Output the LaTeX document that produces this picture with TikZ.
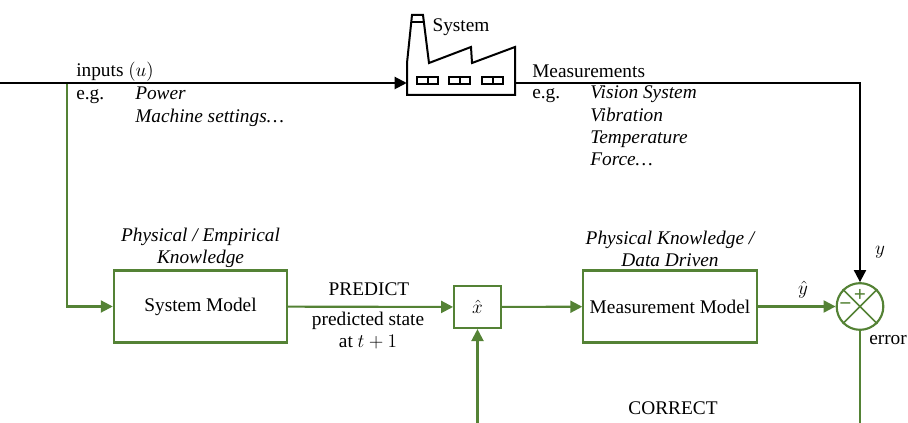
\documentclass[tikz,border=0pt]{standalone}
\usepackage{fontspec}
\setmainfont{Liberation Serif}
\usetikzlibrary{arrows.meta}
\definecolor{modelgreen}{HTML}{548235}

\begin{document}
\begin{tikzpicture}[x=0.75pt, y=-0.75pt,
  every node/.style={font=\fontsize{14.5}{17}\selectfont},
  model/.style={draw=modelgreen, line width=1.6pt, minimum width=130pt, minimum height=54pt},
  flow/.style={modelgreen, line width=1.6pt},
  tip/.style={-{Triangle[length=9pt, width=9pt]}},
  plant/.style={black, line width=1.5pt},
  note/.style={anchor=base west, inner sep=0pt},
  example/.style={note, font=\fontsize{14.5}{17}\selectfont\itshape},
  knowledge/.style={anchor=south, inner sep=1.5pt, align=center,
    font=\fontsize{14.5}{16.5}\selectfont\itshape}]
  \useasboundingbox (0,0) rectangle (908,423);

  % Factory
  \draw[plant, line join=miter] (407,95) -- (407,63) -- (412,15) -- (423,15) -- (429,63)
    -- (471,47) -- (472,63) -- (515,47) -- (515,95) -- cycle;
  \draw[plant] (411,22) -- (424,22);
  \draw[plant] (417,77) rectangle (438,84) (427.5,77) -- (427.5,84);
  \draw[plant] (449,77) rectangle (470,84) (459.5,77) -- (459.5,84);
  \draw[plant] (482,77) rectangle (503,84) (492.5,77) -- (492.5,84);
  \node (system) [inner sep=0pt, minimum width=81pt, minimum height=0pt] at (461,83) {};
  \node[anchor=base] at (461,32) {System};

  % Inputs
  \coordinate (in) at (0,83);
  \coordinate (tap) at (67,83);
  \node[note] at (76,77) {inputs $(u)$};
  \node[note] at (76,100) {e.g.};
  \node[example] at (135,100) {Power};
  \node[example] at (135,123) {Machine settings\ldots};

  % Measurements
  \node[note] at (532,78) {Measurements};
  \node[note] at (532,99) {e.g.};
  \node[example] at (590,99) {Vision System};
  \node[example] at (590,122) {Vibration};
  \node[example] at (590,144) {Temperature};
  \node[example] at (590,166) {Force\ldots};

  % Models
  \node[model] (sysmodel) at (200.5,306.5) {System Model};
  \node[knowledge] at (sysmodel.north) {Physical / Empirical\\Knowledge};
  \node[draw=modelgreen, line width=1.6pt, minimum width=35pt, minimum height=31.5pt] (xhat) at (477.5,307) {$\hat{x}$};
  \node[model] (measmodel) at (670,306.5) {Measurement Model};
  \node[knowledge] at (measmodel.north) {Physical Knowledge /\\Data Driven};

  % Error
  \node[circle, draw=modelgreen, line width=1.6pt, minimum size=35pt, inner sep=0pt] (sum) at (860,306.5) {};
  \draw[modelgreen, line width=1.3pt] (sum.north east) -- (sum.south west) (sum.north west) -- (sum.south east);
  \node[text=modelgreen, font=\fontsize{16}{16}\selectfont\bfseries] at ([yshift=8.5pt]sum.center) {+};
  \node[text=modelgreen, font=\fontsize{16}{16}\selectfont\bfseries] at ([xshift=-11pt]sum.center) {\textminus};
  \coordinate (errend) at (860,423);

  % Connectors
  \draw[flow, tip] (tap) -- (tap |- sysmodel) -- (sysmodel);
  \draw[plant, tip] (in) -- (system);
  \draw[plant, tip] (system) -- (system -| sum) -- (sum);
  \draw[flow, tip] (sysmodel) -- (xhat);
  \draw[flow, tip] (xhat) -- (measmodel);
  \draw[flow, tip] (measmodel) -- (sum);
  \draw[flow] (sum) -- (errend);
  \draw[flow, tip] (xhat |- errend) -- (xhat);

  % Labels
  \node[anchor=south, inner sep=2pt] at (369,299) {PREDICT};
  \node[anchor=north, inner sep=2pt, align=center, font=\fontsize{14.5}{16.5}\selectfont] at (368,309) {predicted state\\at $t+1$};
  \node at (803,290) {$\hat{y}$};
  \node at (880,252) {$y$};
  \node[anchor=west, inner sep=0pt] at (869,340) {error};
  \node[anchor=base] at (673,415) {CORRECT};
\end{tikzpicture}
\end{document}
